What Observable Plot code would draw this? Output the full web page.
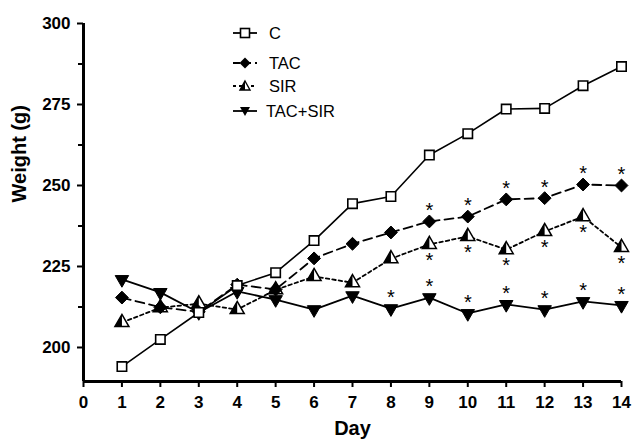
<!DOCTYPE html>
<html>
<head>
<meta charset="utf-8">
<script src="https://cdn.jsdelivr.net/npm/d3@7"></script>
<script src="https://cdn.jsdelivr.net/npm/@observablehq/plot@0.6"></script>
<style>
  body { margin: 0; background: #fff; }
  #wrap { position: relative; width: 633px; height: 440px; }
  #legend { position: absolute; left: 0; top: 0; font-family: "Liberation Sans", Arial, sans-serif; font-size: 16.5px; color: #000; }
  .item { position: absolute; display: flex; align-items: center; white-space: nowrap; }
  .item svg { overflow: visible; }
</style>
</head>
<body>
<div id="wrap"><div id="chart"></div><div id="legend"></div></div>
<script>
const days = [1,2,3,4,5,6,7,8,9,10,11,12,13,14];
const seriesNames = ["C", "TAC", "SIR", "TAC+SIR"];
const cValues      = [194.1,202.5,210.8,219.1,223.1,233.0,244.4,246.6,259.4,266.0,273.6,273.8,280.8,286.7];
const tacValues    = [215.4,212.4,211.0,219.4,217.9,227.5,232.0,235.5,238.9,240.4,245.7,246.1,250.3,250.0];
const sirValues    = [207.7,212.3,213.5,211.7,217.8,221.9,220.0,227.4,231.8,234.3,230.2,235.8,240.4,230.9];
const tacSirValues = [221.0,217.0,210.8,217.3,214.8,211.7,216.0,212.0,215.4,210.5,213.3,211.7,214.2,213.0];
const tacSigDays    = [9,10,11,12,13,14];
const sirSigDays    = [9,10,11,12,13,14];
const tacSirSigDays = [8,9,10,11,12,13,14];
const xTicks = [0,1,2,3,4,5,6,7,8,9,10,11,12,13,14];
const yTicks = [200,225,250,275,300];
const yMinorTicks = [212.5,237.5,262.5,287.5];

const mk = (vals) => days.map((d, i) => ({day: d, w: vals[i]}));
const C = mk(cValues), TAC = mk(tacValues), SIR = mk(sirValues), TS = mk(tacSirValues);
const sig = (series, sd) => series.filter(d => sd.includes(d.day));

const halfTri = {
  draw(context, size) {
    const y = -Math.sqrt(size / (Math.sqrt(3) * 3));
    context.moveTo(0, y * 2);
    context.lineTo(0, -y);
    context.lineTo(Math.sqrt(3) * y, -y);
    context.closePath();
  }
};

const yMin = 189.5;
const font = "Liberation Sans, Arial, sans-serif";

const chart = Plot.plot({
  width: 633,
  height: 440,
  marginLeft: 83,
  marginRight: 12,
  marginTop: 23,
  marginBottom: 59,
  x: {type: "linear", domain: [0, 14]},
  y: {type: "linear", domain: [yMin, 300]},
  style: {fontFamily: font, color: "#000", background: "#fff"},
  marks: [
    Plot.axisX({ticks: xTicks, tickSize: 6, tickPadding: 8, fontSize: 17, fontWeight: "bold", label: null, strokeWidth: 2, tickFormat: d3.format("d")}),
    Plot.axisY({ticks: yTicks, tickSize: 6, tickPadding: 7, fontSize: 17, fontWeight: "bold", label: null, strokeWidth: 2}),
    Plot.axisY({ticks: yMinorTicks, tickSize: 5, tickFormat: () => "", label: null, strokeWidth: 2}),
    Plot.ruleY([yMin], {stroke: "#000", strokeWidth: 3}),
    Plot.ruleX([0], {stroke: "#000", strokeWidth: 3}),
    // lines
    Plot.line(C, {x: "day", y: "w", stroke: "#000", strokeWidth: 1.6}),
    Plot.line(TAC, {x: "day", y: "w", stroke: "#000", strokeWidth: 1.8, strokeDasharray: "9,5"}),
    Plot.line(SIR, {x: "day", y: "w", stroke: "#000", strokeWidth: 1.8, strokeDasharray: "3.5,3"}),
    Plot.line(TS, {x: "day", y: "w", stroke: "#000", strokeWidth: 1.8}),
    // markers
    Plot.dot(TS, {x: "day", y: "w", symbol: "triangle", rotate: 180, r: 5, fill: "#000", stroke: "#000", strokeWidth: 1}),
    Plot.dot(SIR, {x: "day", y: "w", symbol: "triangle", r: 5.2, fill: "#fff", stroke: "#000", strokeWidth: 1.5}),
    Plot.dot(SIR, {x: "day", y: "w", symbol: halfTri, r: 5.2, fill: "#000", stroke: "none"}),
    Plot.dot(TAC, {x: "day", y: "w", symbol: "diamond2", r: 5.8, fill: "#000", stroke: "#000", strokeWidth: 1}),
    Plot.dot(C, {x: "day", y: "w", symbol: "square", r: 5.3, fill: "#fff", stroke: "#000", strokeWidth: 1.6}),
    // significance stars
    Plot.text(sig(TAC, tacSigDays), {x: "day", y: "w", text: () => "*", dy: -11, fontSize: 20, fill: "#000"}),
    Plot.text(sig(SIR, sirSigDays), {x: "day", y: "w", text: () => "*", dy: 16, fontSize: 20, fill: "#000"}),
    Plot.text(sig(TS, tacSirSigDays), {x: "day", y: "w", text: () => "*", dy: -11, fontSize: 20, fill: "#000"}),
    // axis titles
    Plot.text(["Weight (g)"], {frameAnchor: "left", rotate: -90, dx: -64, fontSize: 20, fontWeight: "bold", fill: "#000"}),
    Plot.text(["Day"], {frameAnchor: "bottom", dy: 53, fontSize: 20, fontWeight: "bold", fill: "#000"})
  ]
});
document.getElementById("chart").appendChild(chart);

// legend overlay
const legendRows = [
  {name: seriesNames[0], top: 33, dash: null, sym: "sq"},
  {name: seriesNames[1], top: 63, dash: "7,4", sym: "dia"},
  {name: seriesNames[2], top: 86, dash: "3,3", sym: "tri"},
  {name: seriesNames[3], top: 111, dash: null, sym: "inv"}
];
const legend = document.getElementById("legend");
for (const r of legendRows) {
  const div = document.createElement("div");
  div.className = "item";
  div.style.left = "232px";
  div.style.top = (r.top - 10) + "px";
  div.style.height = "20px";
  let symbol = "";
  if (r.sym === "sq") symbol = '<rect x="-4.5" y="-4.5" width="9" height="9" fill="#fff" stroke="#000" stroke-width="1.6"/>';
  if (r.sym === "dia") symbol = '<path d="M0,-5.5L5.5,0L0,5.5L-5.5,0Z" fill="#000"/>';
  if (r.sym === "tri") symbol = '<path d="M0,-5L5,4L-5,4Z" fill="#fff" stroke="#000" stroke-width="1.4"/><path d="M0,-5L0,4L-5,4Z" fill="#000"/>';
  if (r.sym === "inv") symbol = '<path d="M0,5L5,-4L-5,-4Z" fill="#000"/>';
  const dashAttr = r.dash ? ` stroke-dasharray="${r.dash}"` : "";
  div.innerHTML = `<svg width="26" height="20" viewBox="-13 -10 26 20"><line x1="-12" y1="0" x2="12" y2="0" stroke="#000" stroke-width="1.8"${dashAttr}/>${symbol}</svg><span style="margin-left:${r.name === "TAC+SIR" ? 8 : 11}px">${r.name}</span>`;
  legend.appendChild(div);
}
</script>
</body>
</html>
